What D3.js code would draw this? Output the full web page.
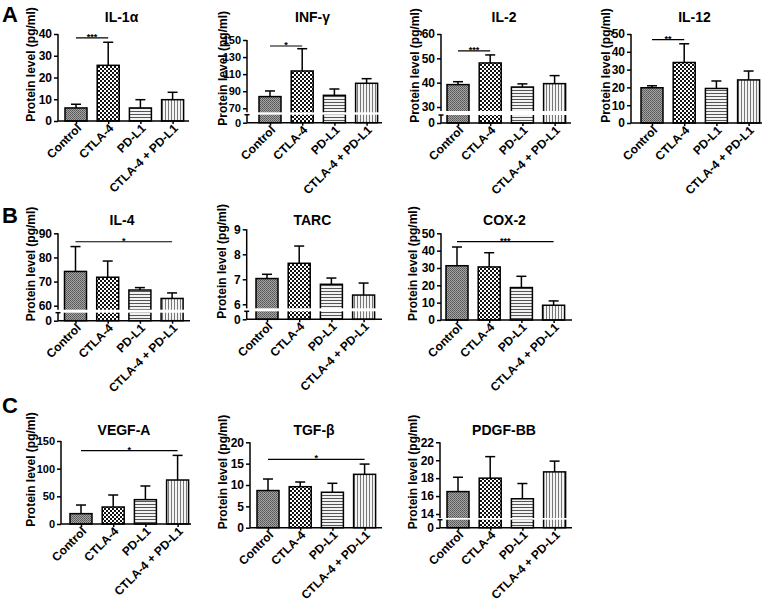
<!DOCTYPE html>
<html><head><meta charset="utf-8">
<script src="https://cdn.jsdelivr.net/npm/d3@7"></script>
<style>
body{margin:0;background:#fff}
svg{display:block}
text{font-family:Arial,"Liberation Sans",sans-serif;font-weight:bold;fill:#000}
</style>
</head><body>
<svg id="c" width="767" height="605"></svg>
<script>
// ---------------- DATA ----------------
const categories = ["Control", "CTLA-4", "PD-L1", "CTLA-4 + PD-L1"];

const il1aMean = [6.0, 25.6, 6.0, 9.8];
const il1aSD   = [1.7, 10.6, 3.8, 3.4];
const il1aTicks = [0, 10, 20, 30, 40];

const infgMean = [83.7, 113.7, 85.2, 99.3];
const infgSD   = [6.6, 26.1, 7.4, 5.4];
const infgTicks = [70, 90, 110, 130, 150];

const il2Mean = [39.2, 48.1, 38.2, 39.6];
const il2SD   = [1.2, 3.3, 1.3, 3.3];
const il2Ticks = [30, 40, 50, 60];

const il12Mean = [19.8, 34.0, 19.4, 24.2];
const il12SD   = [1.1, 10.5, 4.2, 5.0];
const il12Ticks = [0, 10, 20, 30, 40, 50];

const il4Mean = [74.2, 71.8, 66.5, 63.0];
const il4SD   = [10.3, 6.7, 1.0, 2.3];
const il4Ticks = [60, 70, 80, 90];

const tarcMean = [7.03, 7.64, 6.80, 6.37];
const tarcSD   = [0.17, 0.69, 0.25, 0.48];
const tarcTicks = [6, 7, 8, 9];

const cox2Mean = [31.3, 30.6, 18.7, 8.5];
const cox2SD   = [10.8, 8.2, 6.5, 2.5];
const cox2Ticks = [0, 10, 20, 30, 40, 50];

const vegfMean = [18.7, 30.7, 44.0, 79.5];
const vegfSD   = [15.6, 21.7, 24.7, 44.5];
const vegfTicks = [0, 50, 100, 150];

const tgfbMean = [8.7, 9.6, 8.3, 12.5];
const tgfbSD   = [2.7, 1.1, 2.1, 2.4];
const tgfbTicks = [0, 5, 10, 15, 20];

const pdgfMean = [16.5, 18.0, 15.7, 18.7];
const pdgfSD   = [1.6, 2.4, 1.7, 1.2];
const pdgfTicks = [14, 16, 18, 20, 22];

// significance: [fromIndex, toIndex, yValue, label]
const il1aSig = [0, 1, 38.2, "***"];
const infgSig = [0, 1, 143, "*"];
const il2Sig  = [0, 1, 53.1, "***"];
const il12Sig = [0, 1, 46.8, "**"];
const il4Sig  = [0, 3, 86.5, "*"];
const cox2Sig = [0, 3, 45.2, "***"];
const vegfSig = [0, 3, 132.5, "*"];
const tgfbSig = [0, 3, 16, "*"];

const panelLetters = ["A", "B", "C"];

// ---------------- LAYOUT ----------------
const svg = d3.select("#c");
const defs = svg.append("defs");

function pat(id, w, h, bg, shapes){
  const p = defs.append("pattern").attr("id", id).attr("patternUnits","userSpaceOnUse")
    .attr("width", w).attr("height", h);
  p.append("rect").attr("width", w).attr("height", h).attr("fill", bg);
  shapes.forEach(s => p.append("rect").attr("x", s[0]).attr("y", s[1]).attr("width", s[2]).attr("height", s[3]).attr("fill", s[4]));
}
pat("p0", 2, 2, "#a4a4a4", [[0,0,1,1,"#555"],[1,1,1,1,"#666"]]);
pat("p1", 4, 4, "#fff", [[0,0,2,2,"#111"],[2,2,2,2,"#111"]]);
pat("p2", 4, 3, "#f2f2f2", [[0,0,4,1,"#555"]]);
pat("p3", 3, 4, "#f4f4f4", [[0,0,1,4,"#777"]]);
const fills = ["url(#p0)", "url(#p1)", "url(#p2)", "url(#p3)"];

const panels = [
  {title:"IL-1\u03b1", mean:il1aMean, sd:il1aSD, ticks:il1aTicks, sig:il1aSig,
   L:{axisX:58, topY:34, bottomY:121, firstX:65, endX:189, titleY:22, labelX:33, fs:12}},
  {title:"INF-\u03b3", mean:infgMean, sd:infgSD, ticks:infgTicks, sig:infgSig, brk:true,
   L:{axisX:247, topY:40, lowY:108.3, bottomY:122.7, firstX:259, endX:382, titleY:22, labelX:225, fs:11}},
  {title:"IL-2", mean:il2Mean, sd:il2SD, ticks:il2Ticks, sig:il2Sig, brk:true,
   L:{axisX:441, topY:34, lowY:107, bottomY:123, firstX:447, endX:571, titleY:22, labelX:417, fs:12}},
  {title:"IL-12", mean:il12Mean, sd:il12SD, ticks:il12Ticks, sig:il12Sig,
   L:{axisX:631, topY:34, bottomY:123, firstX:641, endX:762, titleY:22, labelX:608, fs:12}},
  {title:"IL-4", mean:il4Mean, sd:il4SD, ticks:il4Ticks, sig:il4Sig, brk:true,
   L:{axisX:58, topY:233.3, lowY:305.7, bottomY:320.7, firstX:64.5, endX:190, titleY:225, labelX:33, fs:12}},
  {title:"TARC", mean:tarcMean, sd:tarcSD, ticks:tarcTicks, brk:true,
   L:{axisX:246.7, topY:229.3, lowY:304.3, bottomY:319.3, firstX:256, endX:382, titleY:225, labelX:224, fs:12}},
  {title:"COX-2", mean:cox2Mean, sd:cox2SD, ticks:cox2Ticks, sig:cox2Sig,
   L:{axisX:441, topY:233.3, bottomY:320, firstX:446, endX:572, titleY:225, labelX:415, fs:12}},
  {title:"VEGF-A", mean:vegfMean, sd:vegfSD, ticks:vegfTicks, sig:vegfSig,
   L:{axisX:61, topY:441, bottomY:524, firstX:70, endX:191, titleY:435, labelX:33, fs:11}},
  {title:"TGF-\u03b2", mean:tgfbMean, sd:tgfbSD, ticks:tgfbTicks, sig:tgfbSig,
   L:{axisX:250, topY:442.3, bottomY:527.7, firstX:257, endX:382, titleY:435, labelX:225, fs:12}},
  {title:"PDGF-BB", mean:pdgfMean, sd:pdgfSD, ticks:pdgfTicks, brk:true,
   L:{axisX:440, topY:442.3, lowY:514, bottomY:527.7, firstX:447, endX:572, titleY:435, labelX:415, fs:12}}
];

const letterY = [22, 223, 413];
panelLetters.forEach((t, i) => svg.append("text").attr("x", 2).attr("y", letterY[i])
  .attr("font-size", 22).text(t));

const barW = 22, step = 32.2, lw = 1.5;
const fmt = d3.format("d");

function styleAxis(ax, fs){
  ax.select(".domain").remove();
  ax.selectAll("line").attr("stroke-width", lw);
  ax.selectAll("text").attr("font-size", fs).attr("font-family", "Arial,'Liberation Sans',sans-serif")
    .attr("font-weight", "bold").attr("fill", "#000");
}

panels.forEach(p => {
  const L = p.L;
  const g = svg.append("g");
  const x = d3.scalePoint().domain(categories)
    .range([L.firstX + barW/2, L.firstX + barW/2 + 3*step]);
  const top = p.ticks[p.ticks.length-1];
  let y, cutY;
  if (p.brk) {
    y = d3.scaleLinear().domain([p.ticks[0], top]).range([L.lowY, L.topY]);
    cutY = L.lowY + 4;
  } else {
    y = d3.scaleLinear().domain([0, top]).range([L.bottomY, L.topY]);
  }
  // bars
  g.selectAll("rect.bar").data(p.mean).join("rect")
    .attr("x", (d,i) => x(categories[i]) - barW/2)
    .attr("y", d => y(d))
    .attr("width", barW)
    .attr("height", d => L.bottomY - y(d))
    .attr("fill", (d,i) => fills[i])
    .attr("stroke", "#000").attr("stroke-width", lw);
  // error bars
  p.mean.forEach((m, i) => {
    const cx = x(categories[i]);
    g.append("line").attr("x1", cx).attr("x2", cx).attr("y1", y(m)).attr("y2", y(m + p.sd[i]))
      .attr("stroke", "#000").attr("stroke-width", lw);
    g.append("line").attr("x1", cx-5).attr("x2", cx+5).attr("y1", y(m + p.sd[i])).attr("y2", y(m + p.sd[i]))
      .attr("stroke", "#000").attr("stroke-width", lw);
  });
  // break gap
  if (p.brk) {
    g.append("rect").attr("x", L.axisX + 1).attr("y", cutY).attr("width", L.endX - L.axisX)
      .attr("height", (L.bottomY - 8) - cutY).attr("fill", "#fff");
  }
  // y axis
  const ax = g.append("g").attr("transform", `translate(${L.axisX},0)`)
    .call(d3.axisLeft(y).tickValues(p.ticks).tickSize(4).tickPadding(2).tickFormat(fmt));
  styleAxis(ax, L.fs);
  if (p.brk) {
    g.append("line").attr("x1", L.axisX).attr("x2", L.axisX).attr("y1", L.topY).attr("y2", cutY)
      .attr("stroke", "#000").attr("stroke-width", lw);
    const yl = d3.scaleLinear().domain([0, 1]).range([L.bottomY, L.bottomY - 8]);
    const axl = g.append("g").attr("transform", `translate(${L.axisX},0)`)
      .call(d3.axisLeft(yl).tickValues([0]).tickSize(4).tickPadding(2).tickFormat(fmt));
    styleAxis(axl, L.fs);
    g.append("line").attr("x1", L.axisX).attr("x2", L.axisX).attr("y1", L.bottomY).attr("y2", yl(1))
      .attr("stroke", "#000").attr("stroke-width", lw);
    g.append("line").attr("x1", L.axisX - 2.5).attr("x2", L.axisX + 2.5).attr("y1", yl(1)).attr("y2", yl(1))
      .attr("stroke", "#000").attr("stroke-width", lw);
  } else {
    g.append("line").attr("x1", L.axisX).attr("x2", L.axisX).attr("y1", L.topY).attr("y2", L.bottomY)
      .attr("stroke", "#000").attr("stroke-width", lw);
  }
  // x axis
  const xa = g.append("g").attr("transform", `translate(0,${L.bottomY})`)
    .call(d3.axisBottom(x).tickSize(3).tickFormat(""));
  xa.select(".domain").remove();
  xa.selectAll("line").attr("stroke-width", lw);
  g.append("line").attr("x1", L.axisX).attr("x2", L.endX).attr("y1", L.bottomY).attr("y2", L.bottomY)
    .attr("stroke", "#000").attr("stroke-width", lw);
  categories.forEach(c => {
    g.append("text").attr("transform", `translate(${x(c) + 6},${L.bottomY + 8}) rotate(-45)`)
      .attr("text-anchor", "end").attr("font-size", 12).text(c);
  });
  // title
  g.append("text").attr("x", (L.axisX + L.endX)/2 - 2).attr("y", L.titleY)
    .attr("text-anchor", "middle").attr("font-size", 14).text(p.title);
  // y label
  g.append("text").attr("transform", `translate(${L.labelX + 1.5},${(L.topY + L.bottomY)/2 - 13}) rotate(-90)`)
    .attr("text-anchor", "middle").attr("font-size", 12).text("Protein level (pg/ml)");
  // significance
  if (p.sig) {
    const [a, b, v, lab] = p.sig;
    const sy = y(v);
    g.append("line").attr("x1", x(categories[a])).attr("x2", x(categories[b])).attr("y1", sy).attr("y2", sy)
      .attr("stroke", "#000").attr("stroke-width", 1.2);
    g.append("text").attr("x", (x(categories[a]) + x(categories[b]))/2).attr("y", sy + 2)
      .attr("text-anchor", "middle").attr("font-size", 9).text(lab);
  }
});
</script>
</body></html>
